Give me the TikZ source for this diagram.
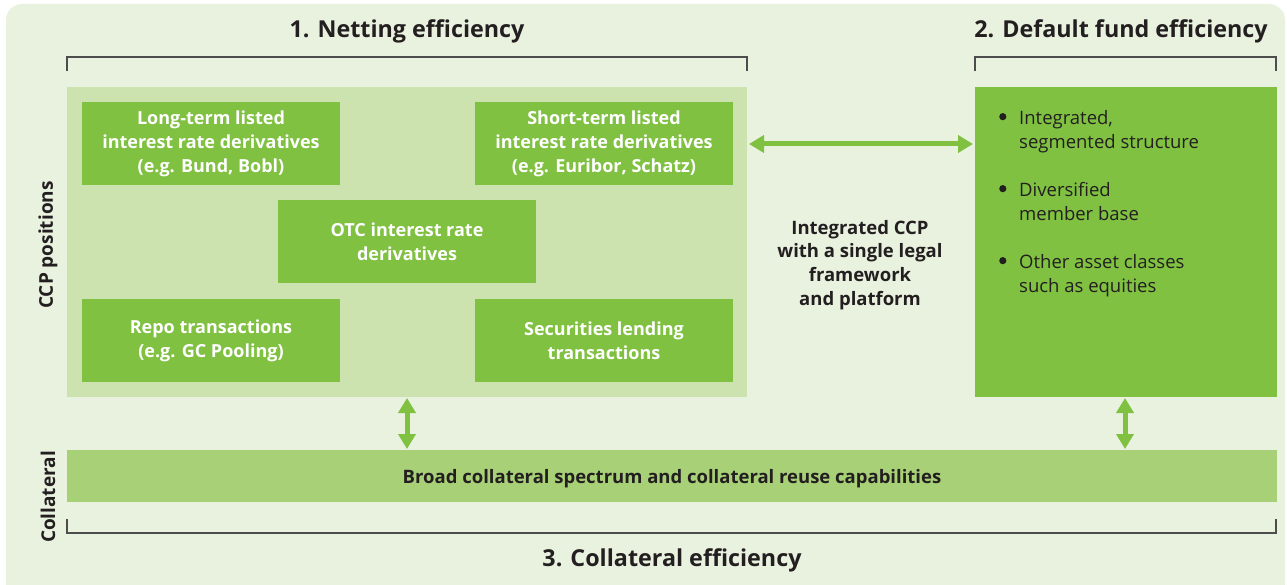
\documentclass[tikz,border=0pt]{standalone}
\usepackage{fontspec}
\setmainfont{Open Sans}
\usetikzlibrary{arrows.meta}
\definecolor{bgc}{HTML}{E9F2DF}
\definecolor{panelc}{HTML}{CCE3B0}
\definecolor{boxc}{HTML}{80C142}
\definecolor{barc}{HTML}{A8D177}
\definecolor{txt}{HTML}{231F20}
\definecolor{brk}{HTML}{4D4D4D}
\newcommand{\mybul}{\makebox[22pt][l]{\hspace*{2pt}\raisebox{4pt}{\tikz\fill[txt] (0,0) circle (3.6pt);}}}
\tikzset{
  greenbox/.style={fill=boxc, draw=none, text=white, font=\fontsize{18}{24}\selectfont\bfseries, align=center, inner sep=0pt},
  title/.style={text=txt, font=\fontsize{23.3}{28}\selectfont\bfseries, inner sep=0pt},
  side/.style={text=txt, font=\fontsize{19}{20}\selectfont\bfseries, rotate=90, inner sep=0pt},
  bracket/.style={draw=brk, line width=1.3pt},
  dblarrow/.style={draw=boxc, line width=5pt, {Triangle[width=17pt,length=15pt]}-{Triangle[width=17pt,length=15pt]}, shorten <=0pt, shorten >=0pt},
}
\begin{document}
\begin{tikzpicture}[x=1pt,y=-1pt]
\useasboundingbox (0,0) rectangle (1287,585);
\fill[bgc, rounded corners=16pt] (6,4) rectangle (1285,600);
% titles
\node[title] (t1) at (407,31) {1. Netting efficiency};
\node[title] (t2) at (1121,31) {2. Default fund efficiency};
\node[title] (t3) at (672,560) {3. Collateral efficiency};
% brackets
\draw[bracket] (67,71) -- (67,57) -- (747,57) -- (747,71);
\draw[bracket] (975,71) -- (975,57) -- (1276,57) -- (1276,71);
\draw[bracket] (67,519) -- (67,533) -- (1276,533) -- (1276,519);
% panel
\fill[panelc] (67,87) rectangle (747,397);
% boxes
\node[greenbox, minimum width=258pt, minimum height=83pt] (lt) at (211,143.5) {Long-term listed\\interest rate derivatives\\(e.g. Bund, Bobl)};
\node[greenbox, minimum width=258pt, minimum height=83pt] (st) at (604,143.5) {Short-term listed\\interest rate derivatives\\(e.g. Euribor, Schatz)};
\node[greenbox, minimum width=258pt, minimum height=83pt] (otc) at (407,241.5) {OTC interest rate\\derivatives};
\node[greenbox, minimum width=258pt, minimum height=83pt] (repo) at (211,340.5) {Repo transactions\\(e.g. GC Pooling)};
\node[greenbox, minimum width=258pt, minimum height=83pt] (sec) at (604,340.5) {Securities lending\\transactions};
% right box
\node[fill=boxc, minimum width=302pt, minimum height=310pt, inner sep=0pt] (df) at (1126,242) {};
\node[anchor=north west, text=txt, font=\fontsize{18.5}{24}\selectfont, align=left, inner sep=0pt] (dfl) at (997,110) {%
\mybul Integrated,\\
\hspace*{22pt}segmented structure\\[24pt]
\mybul Diversified\\
\hspace*{22pt}member base\\[24pt]
\mybul Other asset classes\\
\hspace*{22pt}such as equities};
% middle text
\node[text=txt, font=\fontsize{18.5}{23.7}\selectfont\bfseries, align=center, inner sep=0pt] (mid) at (860,265) {Integrated CCP\\with a single legal\\framework\\and platform};
% collateral bar
\node[fill=barc, minimum width=1210pt, minimum height=52pt, inner sep=0pt] (bar) at (672,476) {};
\node[text=txt, font=\fontsize{18.5}{20}\selectfont\bfseries, inner sep=0pt] (barl) at (672,478.5) {Broad collateral spectrum and collateral reuse capabilities};
% side labels
\node[side] (s1) at (48,245) {CCP positions};
\node[side] (s2) at (48,497) {Collateral};
% arrows
\coordinate (ha) at (749,144);
\coordinate (hb) at (973,144);
\draw[dblarrow] (ha) -- (hb);
\coordinate (panelS) at (407,398);
\coordinate (dfS) at (1125,398);
\coordinate (barN1) at (407,449);
\coordinate (barN2) at (1125,449);
\draw[dblarrow] (panelS) -- (barN1);
\draw[dblarrow] (dfS) -- (barN2);
\end{tikzpicture}
\end{document}
